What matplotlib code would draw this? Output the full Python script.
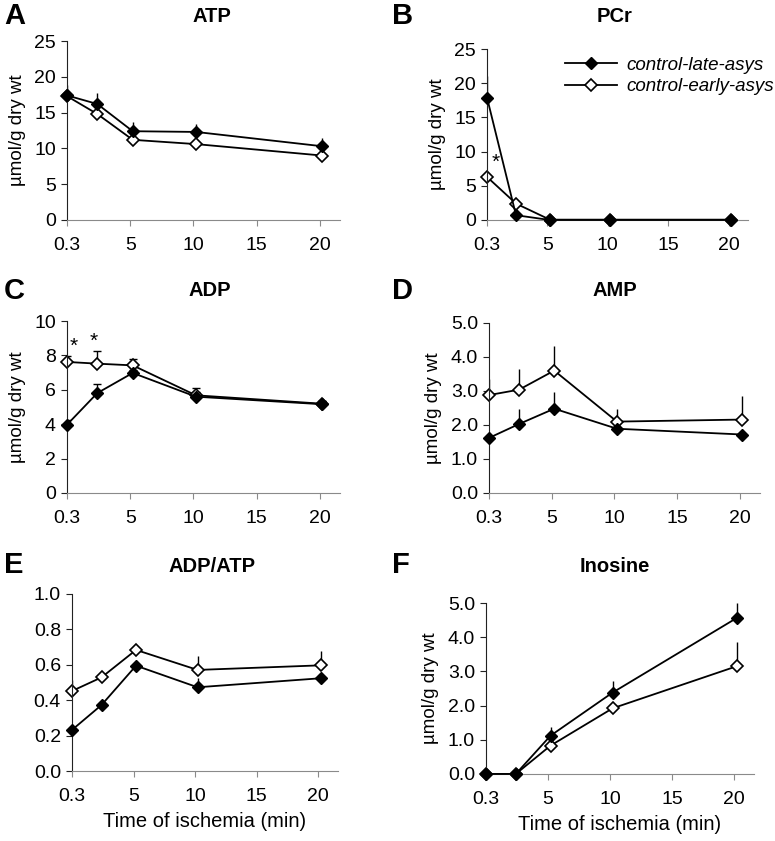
import numpy as np
import matplotlib
matplotlib.use("Agg")
import matplotlib.pyplot as plt

plt.rcParams["font.family"] = ["Liberation Sans", "DejaVu Sans"]

# x positions of the five sampling times (axis origin is labelled 0.3 min)
time_pos = [0, 2.4, 5.2, 10.2, 20.2]
x_ticks = [0, 5, 10, 15, 20]
x_tick_labels = ["0.3", "5", "10", "15", "20"]

# A - ATP
atp_late = [17.4, 16.2, 12.4, 12.3, 10.3]
atp_late_err = [1.4, 1.6, 1.3, 1.1, 1.1]
atp_early = [17.3, 14.8, 11.2, 10.6, 9.0]
atp_early_err = [0.3, 0.3, 0.3, 0.3, 0.3]

# B - PCr
pcr_late = [17.9, 0.7, 0.0, 0.0, 0.0]
pcr_late_err = [3.2, 0.2, 0.0, 0.0, 0.0]
pcr_early = [6.3, 2.4, 0.05, 0.05, 0.05]
pcr_early_err = [0.5, 0.3, 0.0, 0.0, 0.0]

# C - ADP
adp_late = [3.97, 5.81, 6.98, 5.6, 5.16]
adp_late_err = [0.3, 0.55, 0.15, 0.3, 0.2]
adp_early = [7.62, 7.52, 7.42, 5.68, 5.19]
adp_early_err = [0.33, 0.72, 0.38, 0.42, 0.15]

# D - AMP
amp_late = [1.62, 2.03, 2.48, 1.89, 1.72]
amp_late_err = [0.1, 0.45, 0.5, 0.1, 0.1]
amp_early = [2.88, 3.04, 3.6, 2.1, 2.16]
amp_early_err = [0.47, 0.62, 0.72, 0.36, 0.68]

# E - ADP/ATP
ratio_late = [0.232, 0.373, 0.595, 0.473, 0.524]
ratio_late_err = [0.02, 0.01, 0.01, 0.05, 0.01]
ratio_early = [0.452, 0.529, 0.684, 0.571, 0.597]
ratio_early_err = [0.06, 0.01, 0.01, 0.08, 0.08]

# F - Inosine
ino_late = [0.0, 0.0, 1.12, 2.38, 4.56]
ino_late_err = [0.0, 0.0, 0.26, 0.35, 0.45]
ino_early = [0.0, 0.0, 0.83, 1.92, 3.15]
ino_early_err = [0.0, 0.0, 0.1, 0.1, 0.72]

panels = [
    # letter, title, late, late_err, early, early_err, ymax, ystep, fmt, rect(px: left, right, bottom, top)
    ("A", "ATP", atp_late, atp_late_err, atp_early, atp_early_err, 25, 5, "%d", (67, 340, 220, 41)),
    ("B", "PCr", pcr_late, pcr_late_err, pcr_early, pcr_early_err, 25, 5, "%d", (487, 748, 220, 49)),
    ("C", "ADP", adp_late, adp_late_err, adp_early, adp_early_err, 10, 2, "%d", (67, 340, 493, 321)),
    ("D", "AMP", amp_late, amp_late_err, amp_early, amp_early_err, 5, 1, "%.1f", (489, 760, 493, 323)),
    ("E", "ADP/ATP", ratio_late, ratio_late_err, ratio_early, ratio_early_err, 1, 0.2, "%.1f", (72, 338, 771, 594)),
    ("F", "Inosine", ino_late, ino_late_err, ino_early, ino_early_err, 5, 1, "%.1f", (486, 754, 774, 603)),
]

letter_pos = {"A": (4, 2), "B": (392, 2), "C": (4, 277), "D": (392, 277), "E": (4, 551), "F": (392, 551)}
title_pos = {"A": (212, 16), "B": (615, 17), "C": (210, 291), "D": (615, 290), "E": (212, 566), "F": (615, 566)}

W, H = 775, 841
fig = plt.figure(figsize=(W / 100, H / 100), dpi=100)

axes = {}
for letter, title, late, late_err, early, early_err, ymax, ystep, fmt, rect in panels:
    l, r, b, t = rect
    ax = fig.add_axes([l / W, 1 - b / H, (r - l) / W, (b - t) / H])
    axes[letter] = ax

    # error bars (upper only)
    cap = 3 if letter == "C" else 0
    ax.errorbar(time_pos, early, yerr=[np.zeros(5), early_err], fmt="none",
                ecolor="black", elinewidth=1.0, capsize=cap, zorder=1)
    ax.errorbar(time_pos, late, yerr=[np.zeros(5), late_err], fmt="none",
                ecolor="black", elinewidth=1.0, capsize=cap, zorder=1)

    ax.plot(time_pos, late, color="black", lw=1.3, marker="D", ms=6.5,
            mfc="black", mec="black", label="control-late-asys", zorder=3,
            clip_on=False)
    ax.plot(time_pos, early, color="black", lw=1.3, marker="D", ms=6.5,
            mfc="white", mec="black", mew=1.2, label="control-early-asys",
            zorder=2, clip_on=False)

    ax.set_xlim(0, 21.6)
    ax.set_ylim(0, ymax)
    ax.set_xticks(x_ticks)
    ax.set_xticklabels(x_tick_labels)
    yt = np.arange(0, ymax + ystep / 2, ystep)
    ax.set_yticks(yt)
    ax.set_yticklabels([fmt % v for v in yt])

    for s in ["top", "right"]:
        ax.spines[s].set_visible(False)
    ax.spines["left"].set_color("#222222")
    ax.spines["bottom"].set_color("#8a8a8a")
    ax.tick_params(axis="both", labelsize=14, length=4, direction="out")
    ax.tick_params(axis="x", color="#8a8a8a", pad=8)
    ax.tick_params(axis="y", color="#222222", pad=4)

    if letter != "E":
        ax.set_ylabel("µmol/g dry wt", fontsize=13.5, labelpad=6)
    if letter in ("E", "F"):
        ax.set_xlabel("Time of ischemia (min)", fontsize=14.5, labelpad=5)

    lx, ly = letter_pos[letter]
    fig.text(lx / W, 1 - ly / H, letter, fontsize=21, fontweight="bold",
             ha="left", va="top")
    tx, ty = title_pos[letter]
    fig.text(tx / W, 1 - ty / H, title, fontsize=14.5, fontweight="bold",
             ha="center", va="center")

# legend in panel B
leg = axes["B"].legend(loc="upper left", bbox_to_anchor=(0.27, 1.0),
                       frameon=False, fontsize=13.5, handlelength=2.8,
                       labelspacing=0.25, handletextpad=0.5, borderaxespad=0)
for txt in leg.get_texts():
    txt.set_fontstyle("italic")

# significance marks
axes["B"].text(0.7, 8.5, "*", fontsize=15, ha="center", va="center")
axes["C"].text(0.55, 8.5, "*", fontsize=15, ha="center", va="center")
axes["C"].text(2.15, 8.8, "*", fontsize=15, ha="center", va="center")

fig.savefig("out.png", dpi=100)
